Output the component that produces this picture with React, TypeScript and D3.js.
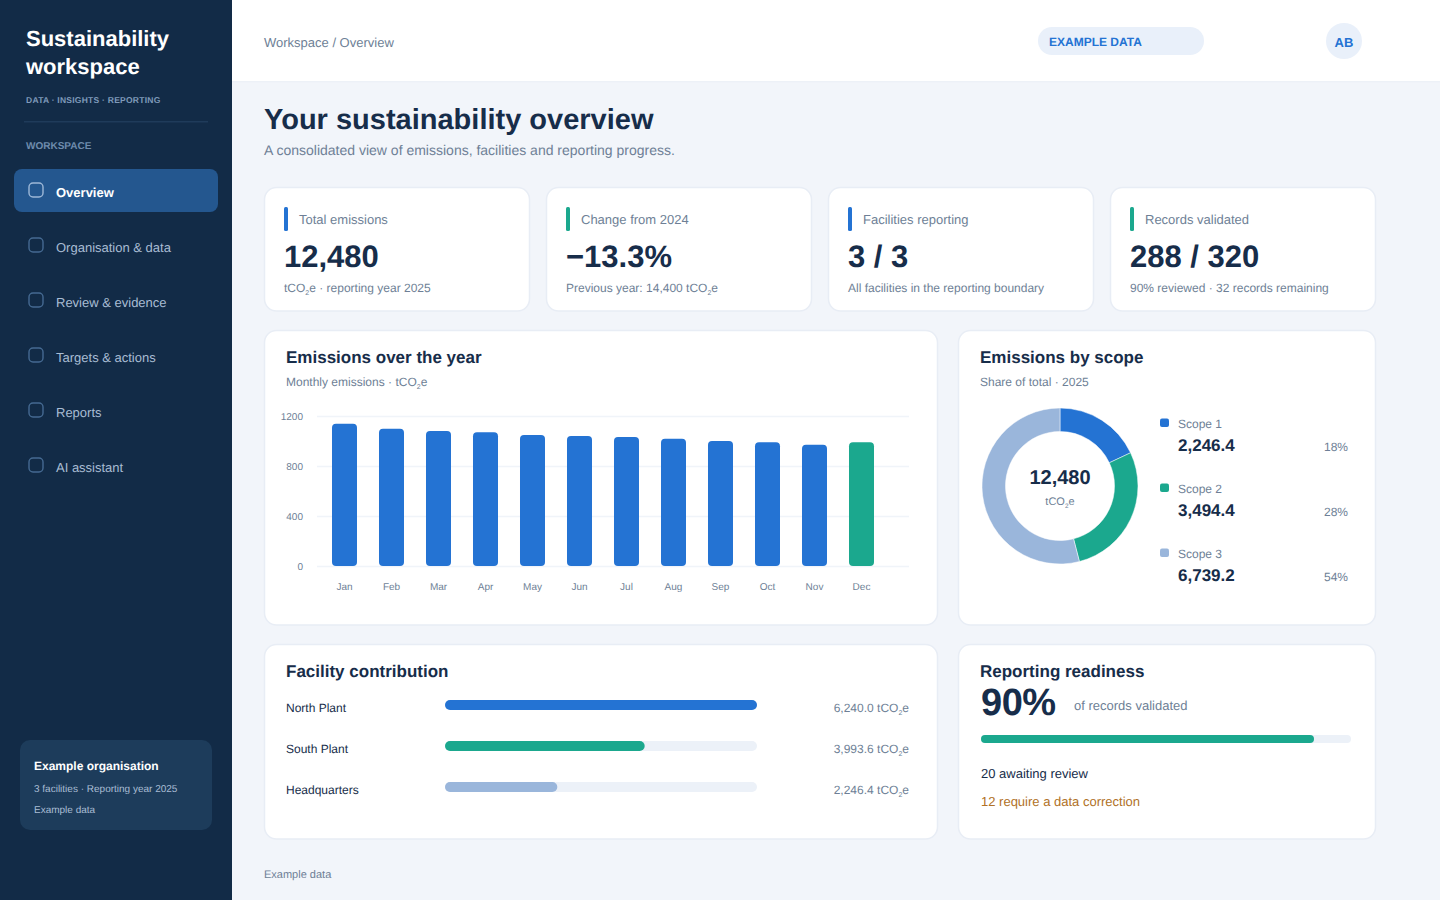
import * as d3 from "d3";
import { useEffect, useRef } from "react";

const FONT = '"Liberation Sans", Arial, sans-serif';
const NAVY = "#172D4A";
const MUTED = "#6E7F96";
const BLUE = "#2473D3";
const GREEN = "#1BA88E";
const PALE = "#9AB6DB";
const TRACK = "#ECF1F8";
const BORDER = "#E8EDF5";

const navItems = ["Overview", "Organisation & data", "Review & evidence", "Targets & actions", "Reports", "AI assistant"];

const kpiLabels = ["Total emissions", "Change from 2024", "Facilities reporting", "Records validated"];
const kpiValues = ["12,480", "−13.3%", "3 / 3", "288 / 320"];
const kpiColors = [BLUE, GREEN, BLUE, GREEN];

const months = ["Jan", "Feb", "Mar", "Apr", "May", "Jun", "Jul", "Aug", "Sep", "Oct", "Nov", "Dec"];
const monthlyEmissions = [1138, 1098, 1080, 1070, 1048, 1040, 1032, 1018, 1000, 990, 970, 990];
const yTicks = [0, 400, 800, 1200];

const scopeNames = ["Scope 1", "Scope 2", "Scope 3"];
const scopeValues = [2246.4, 3494.4, 6739.2];
const scopeShares = ["18%", "28%", "54%"];
const scopeColors = [BLUE, GREEN, PALE];

const facilityNames = ["North Plant", "South Plant", "Headquarters"];
const facilityValues = [6240.0, 3993.6, 2246.4];
const facilityColors = [BLUE, GREEN, PALE];

const validatedShare = 90;

const fmt1 = d3.format(",.1f");

// tCO2e with the small lowered 2
function Co2({ size = 7 }: { size?: number }) {
  return (
    <>
      tCO<tspan fontSize={size} dy={3}>2</tspan><tspan dy={-3}>e</tspan>
    </>
  );
}

function Card({ x, y, w, h }: { x: number; y: number; w: number; h: number }) {
  return <rect x={x + 0.5} y={y + 0.5} width={w - 1} height={h - 0.5} rx={12} fill="#fff" stroke={BORDER} strokeWidth={1.5} />;
}

function Sidebar() {
  return (
    <g>
      <rect width={232} height={900} fill="#122B47" />
      <text x={26} y={46} fontSize={22} fontWeight={700} fill="#fff">Sustainability</text>
      <text x={26} y={74} fontSize={22} fontWeight={700} fill="#fff">workspace</text>
      <text x={26} y={103} fontSize={8.5} fontWeight={700} fill="#7F9ABA" letterSpacing={0.25}>DATA · INSIGHTS · REPORTING</text>
      <rect x={24} y={121} width={184} height={1.5} fill="#1F3B5A" />
      <text x={26} y={149} fontSize={10} fontWeight={700} fill="#6E8BAD">WORKSPACE</text>
      <rect x={14} y={169} width={204} height={43} rx={8} fill="#24578F" />
      {navItems.map((item, i) => {
        const cy = 190 + i * 55;
        return (
          <g key={item}>
            <rect x={29} y={cy - 7} width={14} height={14} rx={4} fill="none" stroke={i === 0 ? "#9DB8D8" : "#456A92"} strokeWidth={1.4} />
            <text x={56} y={cy + 6.5} fontSize={13} fontWeight={i === 0 ? 700 : 400} fill={i === 0 ? "#fff" : "#A9BDD4"}>{item}</text>
          </g>
        );
      })}
      <rect x={20} y={740} width={192} height={90} rx={10} fill="#1D3C5B" />
      <text x={34} y={770} fontSize={12} fontWeight={700} fill="#fff">Example organisation</text>
      <text x={34} y={792} fontSize={10} fill="#A9BDD4">3 facilities · Reporting year 2025</text>
      <text x={34} y={813} fontSize={10} fill="#A9BDD4">Example data</text>
    </g>
  );
}

function Kpis() {
  const subs = [
    <><Co2 /> · reporting year 2025</>,
    <>Previous year: 14,400 <Co2 /></>,
    <>All facilities in the reporting boundary</>,
    <>90% reviewed · 32 records remaining</>,
  ];
  return (
    <g>
      {kpiLabels.map((label, i) => {
        const x = 264 + i * 282;
        return (
          <g key={label}>
            <Card x={x} y={187} w={266} h={124} />
            <rect x={x + 20} y={207} width={4} height={24} rx={1.5} fill={kpiColors[i]} />
            <text x={x + 35} y={224} fontSize={13} fill={MUTED}>{label}</text>
            <text x={x + 20} y={267} fontSize={31} fontWeight={700} fill={NAVY}>{kpiValues[i]}</text>
            <text x={x + 20} y={292} fontSize={12} fill={MUTED}>{subs[i]}</text>
          </g>
        );
      })}
    </g>
  );
}

function MonthlyBars() {
  const x = d3.scaleBand(months, [321, 885]).paddingInner(0.468).paddingOuter(0.234);
  const y = d3.scaleLinear([0, 1200], [566, 416]);
  const gx = useRef<SVGGElement | null>(null);
  const gy = useRef<SVGGElement | null>(null);

  useEffect(() => {
    if (gy.current) {
      const axis = d3.axisLeft(y).tickValues(yTicks).tickFormat(d3.format("d")).tickSize(-592).tickPadding(14);
      const g = d3.select(gy.current).call(axis);
      g.select(".domain").remove();
      g.selectAll("line").attr("stroke", "#F0F4F9").attr("stroke-width", 1.5);
      g.selectAll("text").attr("fill", MUTED).attr("font-size", 10).attr("font-family", FONT);
    }
    if (gx.current) {
      const axis = d3.axisBottom(x).tickSize(0).tickPadding(17).offset(0);
      const g = d3.select(gx.current).call(axis);
      g.select(".domain").remove();
      g.selectAll("text").attr("fill", MUTED).attr("font-size", 10).attr("font-family", FONT);
    }
  }, []);

  return (
    <g>
      <Card x={264} y={330} w={674} h={295} />
      <text x={286} y={363} fontSize={17} fontWeight={700} fill={NAVY}>Emissions over the year</text>
      <text x={286} y={386} fontSize={12} fill={MUTED}>Monthly emissions · <Co2 /></text>
      <g ref={gy} transform="translate(317,0)" />
      <g ref={gx} transform="translate(0,566)" />
      {months.map((m, i) => (
        <rect
          key={m}
          x={x(m)}
          y={y(monthlyEmissions[i])}
          width={x.bandwidth()}
          height={y(0) - y(monthlyEmissions[i])}
          rx={4}
          fill={i === months.length - 1 ? GREEN : BLUE}
        />
      ))}
    </g>
  );
}

function ScopeDonut() {
  const pie = d3.pie<number>().sort(null)(scopeValues);
  const arc = d3.arc<d3.PieArcDatum<number>>().innerRadius(54.5).outerRadius(78);
  return (
    <g>
      <Card x={958} y={330} w={418} h={295} />
      <text x={980} y={363} fontSize={17} fontWeight={700} fill={NAVY}>Emissions by scope</text>
      <text x={980} y={386} fontSize={12} fill={MUTED}>Share of total · 2025</text>
      <g transform="translate(1060,486)">
        {pie.map((d, i) => (
          <path key={scopeNames[i]} d={arc(d) ?? undefined} fill={scopeColors[i]} stroke="#fff" strokeWidth={0.5} />
        ))}
        <text y={-2} textAnchor="middle" fontSize={20} fontWeight={700} fill={NAVY}>12,480</text>
        <text y={19} textAnchor="middle" fontSize={11} fill={MUTED}><Co2 size={6.5} /></text>
      </g>
      {scopeNames.map((name, i) => {
        const top = 419 + i * 65;
        return (
          <g key={name}>
            <rect x={1160} y={top - 0.5} width={9} height={8.5} rx={2} fill={scopeColors[i]} />
            <text x={1178} y={top + 9} fontSize={12} fill={MUTED}>{name}</text>
            <text x={1178} y={top + 32} fontSize={17} fontWeight={700} fill={NAVY}>{fmt1(scopeValues[i])}</text>
            <text x={1348} y={top + 32} textAnchor="end" fontSize={12} fill={MUTED}>{scopeShares[i]}</text>
          </g>
        );
      })}
    </g>
  );
}

function Facilities() {
  const x = d3.scaleLinear([0, d3.max(facilityValues) ?? 0], [0, 312]);
  return (
    <g>
      <Card x={264} y={644} w={674} h={195} />
      <text x={286} y={677} fontSize={17} fontWeight={700} fill={NAVY}>Facility contribution</text>
      {facilityNames.map((name, i) => {
        const top = 700 + i * 41;
        return (
          <g key={name}>
            <text x={286} y={top + 12} fontSize={12} fill={NAVY}>{name}</text>
            <rect x={445} y={top} width={312} height={10} rx={5} fill={TRACK} />
            <rect x={445} y={top} width={x(facilityValues[i])} height={10} rx={5} fill={facilityColors[i]} />
            <text x={909} y={top + 12} textAnchor="end" fontSize={12} fill={MUTED}>{fmt1(facilityValues[i])} <Co2 /></text>
          </g>
        );
      })}
    </g>
  );
}

function Readiness() {
  const x = d3.scaleLinear([0, 100], [0, 370]);
  return (
    <g>
      <Card x={958} y={644} w={418} h={195} />
      <text x={980} y={677} fontSize={17} fontWeight={700} fill={NAVY}>Reporting readiness</text>
      <text x={981} y={715} fontSize={38} fontWeight={700} letterSpacing={-0.5} fill={NAVY}>{validatedShare}%</text>
      <text x={1074} y={710} fontSize={13} fill={MUTED}>of records validated</text>
      <rect x={981} y={735} width={370} height={8} rx={4} fill={TRACK} />
      <rect x={981} y={735} width={x(validatedShare)} height={8} rx={4} fill={GREEN} />
      <text x={981} y={778} fontSize={13} fill={NAVY}>20 awaiting review</text>
      <text x={981} y={806} fontSize={13} fill="#B07126">12 require a data correction</text>
    </g>
  );
}

export default function App() {
  return (
    <svg width={1440} height={900} fontFamily={FONT} textRendering="geometricPrecision" style={{ position: "absolute", left: 0, top: 0, display: "block" }}>
      <rect width={1440} height={900} fill="#F2F5FA" />
      <rect x={232} width={1208} height={81} fill="#fff" />
      <rect x={232} y={81} width={1208} height={1.5} fill="#EDF1F7" />
      <Sidebar />
      <text x={264} y={47} fontSize={13} fill={MUTED}>Workspace / Overview</text>
      <rect x={1038} y={27} width={166} height={28} rx={14} fill="#E9F0FA" />
      <text x={1049} y={46} fontSize={12} fontWeight={700} fill={BLUE}>EXAMPLE DATA</text>
      <circle cx={1344} cy={41} r={18} fill="#E9F0FA" />
      <text x={1344} y={47} textAnchor="middle" fontSize={13} fontWeight={700} fill={BLUE}>AB</text>
      <text x={264} y={128.5} fontSize={29} fontWeight={700} fill={NAVY}>Your sustainability overview</text>
      <text x={264} y={155} fontSize={14} fill={MUTED}>A consolidated view of emissions, facilities and reporting progress.</text>
      <Kpis />
      <MonthlyBars />
      <ScopeDonut />
      <Facilities />
      <Readiness />
      <text x={264} y={878} fontSize={11} fill={MUTED}>Example data</text>
    </svg>
  );
}
